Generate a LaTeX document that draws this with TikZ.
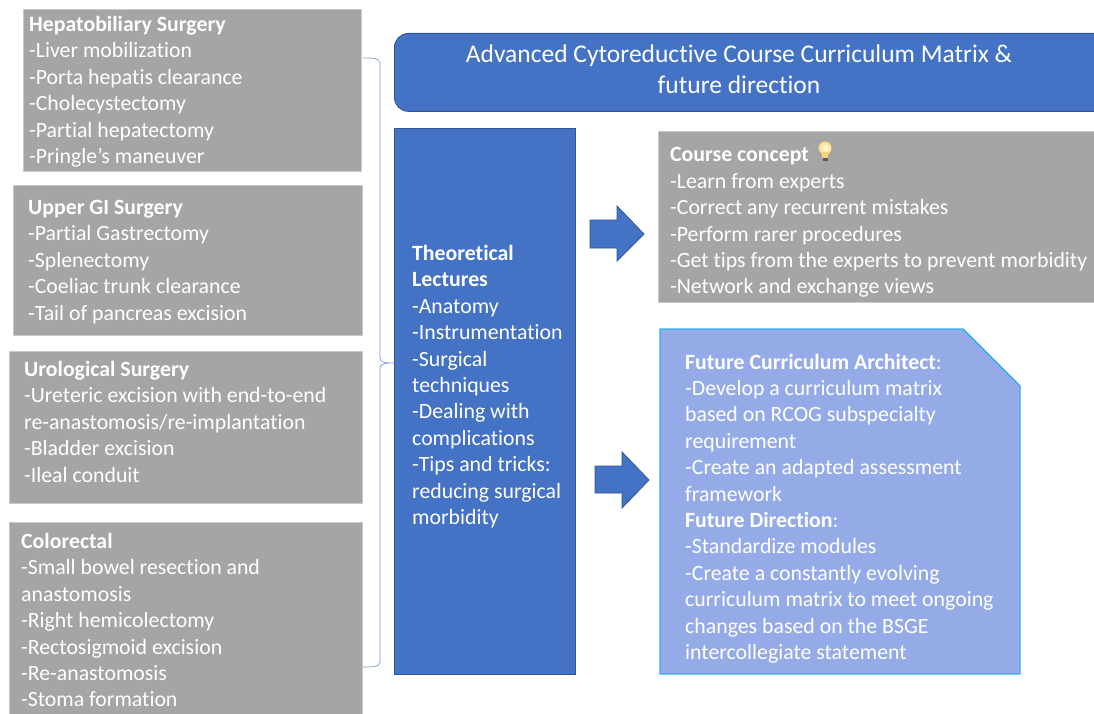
\documentclass[tikz,border=0pt]{standalone}
\usepackage{fontspec}
\setmainfont{Carlito}[Ligatures=NoCommon]
\usepackage{tikz}

\definecolor{boxgray}{HTML}{A5A5A5}
\definecolor{boxblue}{HTML}{4472C4}
\definecolor{edgeblue}{HTML}{2F5597}
\definecolor{paleblue}{HTML}{95ABE8}
\definecolor{skyedge}{HTML}{2DB0EA}
\definecolor{bracecol}{HTML}{7C9BD8}

\tikzset{
	grayrect/.style={fill=boxgray,draw=boxgray!60,line width=0.8pt,anchor=north west,inner sep=0pt},
	bluerect/.style={fill=boxblue,draw=edgeblue,line width=0.8pt,anchor=north west,inner sep=0pt},
	bodytext/.style={text=white,anchor=north west,inner sep=0pt,align=left,font=\fontsize{21.8}{26.4}\selectfont},
	fatarrow/.style={fill=boxblue,draw=edgeblue,line width=0.8pt}
}

\begin{document}
\begin{tikzpicture}[x=1pt,y=-1pt]
	\clip (0,0) rectangle (1094,714);
	% left column
	\node[grayrect,minimum width=338pt,minimum height=162pt] (hepatobox) at (23,9) {};
	\node[grayrect,minimum width=349pt,minimum height=150pt] (upperbox) at (13,185) {};
	\node[grayrect,minimum width=353pt,minimum height=152pt] (urobox) at (9,351) {};
	\node[grayrect,minimum width=353pt,minimum height=195pt] (colobox) at (9,522) {};
	\node[bodytext] (hepatotext) at (29,16) {\textbf{Hepatobiliary Surgery}\\-Liver mobilization\\-Porta hepatis clearance\\-Cholecystectomy\\-Partial hepatectomy\\-Pringle’s maneuver};
	\node[bodytext] (uppertext) at (28,200) {\textbf{Upper GI Surgery}\\-Partial Gastrectomy\\-Splenectomy\\-Coeliac trunk clearance\\-Tail of pancreas excision};
	\node[bodytext] (urotext) at (24,361) {\textbf{Urological Surgery}\\-Ureteric excision with end-to-end\\re-anastomosis/re-implantation\\-Bladder excision\\-Ileal conduit};
	\node[bodytext] (colotext) at (21,533) {\textbf{Colorectal}\\-Small bowel resection and\\anastomosis\\-Right hemicolectomy\\-Rectosigmoid excision\\-Re-anastomosis\\-Stoma formation};

	% brace
	\coordinate (bracetop) at (363,58);
	\coordinate (bracetip) at (394,363);
	\coordinate (bracebot) at (363,667);
	\draw[bracecol,line width=0.7pt] (bracetop) .. controls (372,58) and (380,58) .. (380,63) -- (380,358)
		.. controls (380,362) and (384,363) .. (bracetip)
		.. controls (384,363) and (380,364) .. (380,368) -- (380,662)
		.. controls (380,667) and (372,667) .. (bracebot);

	% title and middle column
	\node[bluerect,rounded corners=14pt,minimum width=730pt,minimum height=78pt] (titlebox) at (394,33) {};
	\node[bodytext,anchor=center,align=center,font=\fontsize{25.5}{31}\selectfont] (titletext) at (739,69.5) {Advanced Cytoreductive Course Curriculum Matrix \&\\future direction};
	\node[bluerect,minimum width=180.5pt,minimum height=546pt] (lecturebox) at (394,128) {};
	\node[bodytext] (lecturetext) at (412,245) {\textbf{Theoretical}\\\textbf{Lectures}\\-Anatomy\\-Instrumentation\\-Surgical\\techniques\\-Dealing with\\complications\\-Tips and tricks:\\reducing surgical\\morbidity};

	% arrows
	\draw[fatarrow] (590,220) -- (617,220) -- (617,206) -- (644,234) -- (617,261) -- (617,248) -- (590,248) -- cycle;
	\draw[fatarrow] (595,466) -- (622,466) -- (622,452) -- (649,480) -- (622,508) -- (622,493) -- (595,493) -- cycle;

	% right column
	\node[grayrect,minimum width=450pt,minimum height=171pt] (conceptbox) at (658,131) {};
	\node[bodytext] (concepttext) at (670,147.5) {\textbf{Course concept}\\-Learn from experts\\-Correct any recurrent mistakes\\-Perform rarer procedures\\-Get tips from the experts to prevent morbidity\\-Network and exchange views};
	\shade[inner color=yellow!10!white,outer color=yellow!40!orange!50!white] (825,148) circle (6.5);
	\fill[yellow!40!orange!50!white] (821,152) -- (829,152) -- (827.5,158) -- (822.5,158) -- cycle;
	\fill[gray!70!black] (822.5,158) rectangle (827.5,161.5);

	\draw[fill=paleblue,draw=skyedge,line width=1.4pt] (660,329) -- (963,329) -- (1020,386) -- (1020,674) -- (660,674) -- cycle;
	\node[bodytext] (futuretext) at (685,353.5) {\textbf{Future Curriculum Architect}:\\-Develop a curriculum matrix\\based on RCOG subspecialty\\requirement\\-Create an adapted assessment\\framework\\\textbf{Future Direction}:\\-Standardize modules\\-Create a constantly evolving\\curriculum matrix to meet ongoing\\changes based on the BSGE\\intercollegiate statement};
\end{tikzpicture}
\end{document}
